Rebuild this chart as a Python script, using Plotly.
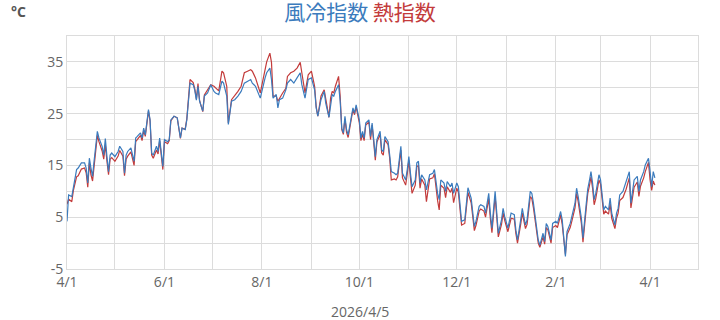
import pandas as pd
import plotly.graph_objects as go

start_date = "2025-04-01"
date_label = "2026/4/5"
title_wc = "風冷指数"
title_hi = "熱指数"
unit = "°C"
y_tick_values = [-5, 5, 15, 25, 35]
y_tick_labels = ["-5", "5", "15", "25", "35"]

day_offsets = [
    0, 1, 3, 4, 6, 7, 9, 11, 12, 13,
    14, 15, 16, 17, 19, 20, 22, 23, 24, 25,
    26, 27, 28, 30, 32, 33, 35, 36, 37, 38,
    40, 42, 43, 44, 46, 47, 48, 49, 51, 52,
    53, 54, 56, 57, 58, 60, 61, 63, 64, 65,
    67, 69, 71, 72, 74, 75,
    77, 79, 80, 81, 82, 83, 85, 86, 88, 90,
    92, 93, 95, 97, 98, 100, 101, 103, 105, 107,
    109, 111, 113, 115, 116, 118, 121, 123, 124, 125,
    127, 128, 129, 131, 132, 133, 135, 137, 138, 140,
    142, 144, 146, 147, 149, 151, 153, 155, 156, 157,
    159, 161, 162, 164, 165, 166, 167, 168, 170, 171,
    172, 173,
    174, 175, 176, 178, 179, 180, 181, 183, 184, 185,
    186, 187, 189, 190, 191, 192, 193, 194, 196, 197,
    198, 199, 201, 202, 203, 205, 206, 207, 209, 210,
    212, 213, 214, 215, 216, 218, 219, 220, 221, 222,
    224, 225, 226, 227, 229, 230, 232, 233, 234, 236,
    237, 238, 240, 241, 242, 244, 245, 246, 247, 249,
    250, 251, 253, 254, 255, 256, 258, 259, 261, 262,
    263, 264, 265, 266, 268, 269, 270, 272, 273, 274,
    276, 278, 280, 281, 282, 284, 285, 287, 288, 290,
    291, 292, 294, 295, 296, 298, 299, 300, 301, 303,
    304, 306, 307, 309, 310, 312, 313, 315, 316, 318,
    319, 320, 322, 323, 325, 326, 327, 328, 329, 330,
    331, 333, 334, 335, 336, 337, 339, 340, 341, 343,
    344, 345, 346, 348, 349, 350, 352, 353, 354, 355,
    357, 358, 359, 361, 362, 363, 364, 365, 366, 367,
    368,
]

wind_chill = [
    4.2, 9.3, 9.0, 10.6, 14.2, 14.5, 15.5, 15.5, 14.5, 11.6,
    16.4, 14.5, 12.9, 16.0, 21.6, 20.3, 18.7, 17.0, 20.2, 16.7,
    13.8, 17.0, 17.4, 16.7, 17.7, 18.7, 17.7, 13.5, 17.0, 17.7,
    18.4, 15.8, 20.3, 20.6, 21.3, 20.3, 22.2, 20.9, 25.8, 23.8,
    17.4, 17.0, 18.7, 17.7, 20.3, 14.8, 20.0, 19.6, 20.0, 23.8,
    24.5, 24.2, 20.3, 22.2, 21.9, 23.8,
    30.9, 30.6, 29.5, 27.6, 30.3, 27.4, 25.5, 28.4, 29.0, 30.6,
    29.3, 29.0, 28.7, 31.3, 30.9, 28.4, 22.9, 27.4, 27.7, 28.4,
    29.3, 30.9, 31.3, 31.6, 30.9, 30.3, 28.0, 30.9, 31.9, 32.9,
    33.8, 31.6, 28.0, 28.7, 26.1, 27.7, 28.0, 29.6, 30.9, 31.6,
    30.9, 31.9, 32.9, 30.6, 28.0, 31.6, 31.9, 29.6, 26.1, 24.5,
    27.7, 29.3, 27.0, 24.3, 26.7, 28.7, 28.4, 29.3, 30.6, 27.4,
    22.2, 21.3,
    24.5, 21.9, 20.9, 24.8, 26.1, 25.1, 26.7, 23.8, 20.3, 21.6,
    20.3, 23.2, 23.8, 20.6, 23.2, 20.0, 16.7, 20.0, 21.6, 18.0,
    17.7, 20.6, 19.6, 17.0, 13.8, 13.5, 13.2, 13.5, 18.7, 13.5,
    12.2, 14.2, 16.7, 13.5, 10.9, 12.2, 15.5, 15.8, 11.6, 13.2,
    12.2, 10.3, 11.9, 13.2, 13.5, 14.2, 9.6, 8.4, 12.2, 11.6,
    10.0, 11.9, 10.9, 11.6, 9.6, 11.6, 10.9, 7.0, 4.2, 4.5,
    8.5, 10.7, 8.7, 5.8, 3.2, 4.2, 7.1, 7.4, 7.1, 5.8,
    7.7, 9.6, 5.8, 2.9, 10.0, 5.5, 1.9, 4.5, 6.7, 5.1,
    2.9, 5.8, 5.5, 2.5, 0.6, 4.5, 6.7, 3.5, 4.5, 10.0,
    9.6, 7.7, 2.5, 0.6, -0.4, 1.9, 0.3, 3.8, 3.2, 0.6,
    3.8, 4.2, 3.8, 6.1, 4.5, -2.6, 2.2, 3.8, 5.1, 7.7,
    10.6, 9.0, 4.8, 1.0, 7.5, 10.5, 12.0, 13.8, 11.6, 8.4,
    9.6, 13.2, 12.2, 9.0, 6.4, 7.1, 6.4, 8.7, 5.8, 3.5,
    5.8, 6.7, 9.3, 10.0, 10.9, 11.6, 13.8, 7.7, 10.0, 12.2,
    12.9, 10.0, 12.2, 13.8, 15.1, 15.8, 16.4, 13.8, 10.9, 13.8,
    12.6,
]

heat_index = [
    7.5, 8.5, 8.0, 10.2, 12.8, 13.0, 14.3, 14.5, 13.6, 10.8,
    15.5, 13.2, 12.0, 15.2, 20.8, 19.6, 17.8, 16.2, 19.0, 15.8,
    13.2, 16.2, 16.5, 15.8, 16.8, 17.9, 16.8, 13.0, 16.2, 16.8,
    17.6, 15.0, 19.6, 20.0, 20.8, 19.8, 21.8, 20.6, 25.5, 23.6,
    17.0, 16.4, 18.0, 17.2, 19.8, 14.2, 19.6, 19.2, 19.8, 23.6,
    24.5, 24.2, 20.2, 22.2, 22.0, 24.0,
    31.6, 31.0, 29.8, 27.8, 30.8, 27.5, 25.4, 28.6, 29.5, 30.6,
    30.3, 30.0, 29.4, 33.2, 32.9, 30.3, 23.2, 27.7, 28.4, 29.3,
    30.3, 32.9, 33.2, 33.5, 33.2, 31.9, 29.0, 32.2, 33.8, 35.0,
    36.7, 34.9, 28.4, 28.4, 27.4, 28.0, 29.0, 29.9, 32.2, 32.9,
    33.2, 33.8, 34.9, 32.9, 29.0, 32.5, 33.2, 30.3, 26.3, 24.5,
    28.4, 29.6, 28.0, 24.3, 28.0, 29.3, 29.0, 30.3, 32.2, 28.4,
    21.9, 21.0,
    24.0, 21.4, 20.4, 24.4, 25.8, 24.8, 26.3, 23.2, 19.8, 21.0,
    19.8, 22.8, 23.4, 20.0, 22.8, 19.5, 16.0, 19.5, 21.0, 17.4,
    17.0, 20.0, 19.0, 16.4, 12.2, 12.4, 12.2, 12.8, 18.0, 12.6,
    11.2, 13.4, 16.0, 12.6, 9.6, 11.2, 14.8, 15.0, 10.6, 12.4,
    11.2, 8.0, 10.8, 12.4, 12.6, 13.4, 8.2, 6.4, 11.2, 10.6,
    8.8, 10.9, 9.8, 10.6, 7.8, 10.6, 9.8, 6.0, 3.5, 3.8,
    7.6, 9.8, 7.8, 4.8, 2.4, 3.4, 6.2, 6.6, 6.2, 5.0,
    6.8, 8.6, 4.8, 2.0, 9.0, 4.6, 1.2, 3.6, 5.8, 4.4,
    2.2, 4.8, 4.6, 1.8, 0.0, 3.6, 5.8, 2.8, 3.6, 9.0,
    8.6, 6.8, 1.8, 0.0, -0.8, 1.2, -0.2, 3.0, 2.6, 0.0,
    3.0, 3.4, 3.0, 5.4, 3.6, -2.2, 1.6, 3.0, 4.2, 6.8,
    9.6, 8.0, 3.8, 0.2, 6.6, 9.6, 11.0, 12.8, 10.6, 7.4,
    8.6, 12.2, 11.4, 8.2, 5.6, 6.2, 5.6, 7.6, 4.8, 2.8,
    4.8, 5.8, 8.2, 8.8, 9.6, 10.4, 12.6, 6.8, 8.8, 10.8,
    11.8, 9.0, 11.0, 12.6, 13.8, 14.6, 15.6, 12.2, 10.2, 12.0,
    11.2,
]

dates = pd.Timestamp(start_date) + pd.to_timedelta(day_offsets, unit="D")

BLUE = "#3b7bbd"
RED = "#c33b3b"
GRID = "#dcdcdc"
TICK = "#666666"
FONT = "Open Sans, Noto Sans, sans-serif"

fig = go.Figure()
fig.add_trace(go.Scatter(x=dates, y=heat_index, mode="lines",
                         line=dict(color=RED, width=1.2), name=title_hi))
fig.add_trace(go.Scatter(x=dates, y=wind_chill, mode="lines",
                         line=dict(color=BLUE, width=1.2), name=title_wc))

fig.update_layout(
    width=720, height=320,
    margin=dict(l=67, r=22, t=36, b=51),
    paper_bgcolor="white", plot_bgcolor="white",
    showlegend=False,
    font=dict(family=FONT, size=14, color=TICK),
    title=dict(
        text=f'<span style="color:{BLUE}">{title_wc}</span> <span style="color:{RED}">{title_hi}</span>',
        x=0.5, xanchor="center", xref="container",
        y=1 - 13 / 320, yanchor="middle", yref="container",
        font=dict(family="Noto Sans CJK JP, sans-serif", size=21),
    ),
)

fig.update_xaxes(
    type="date",
    range=["2025-04-01", "2026-05-01"],
    tick0="2025-04-01", dtick="M2", tickformat="%-m/%-d",
    showgrid=True, gridcolor=GRID, gridwidth=1,
    minor=dict(dtick="M1", showgrid=True, gridcolor=GRID, gridwidth=1),
    showline=True, linecolor=GRID, linewidth=1, mirror=True,
    ticks="", tickfont=dict(size=14, color=TICK),
    zeroline=False,
)
fig.update_yaxes(
    range=[-5, 40],
    showgrid=True, gridcolor=GRID, gridwidth=1,
    minor=dict(tick0=-5, dtick=5, showgrid=True, gridcolor=GRID, gridwidth=1),
    showline=True, linecolor=GRID, linewidth=1, mirror=True,
    ticks="", tickfont=dict(size=14, color=TICK),
    zeroline=False,
    tickmode="array", tickvals=y_tick_values, ticktext=y_tick_labels,
)

fig.add_annotation(text=f"<b>{unit}</b>", xref="paper", yref="paper",
                   x=-0.092, y=1.105, xanchor="left", yanchor="middle",
                   showarrow=False, font=dict(size=14, color="#555555"))
fig.add_annotation(text=date_label, xref="paper", yref="paper",
                   x=(360 - 67) / 631, y=-(311 - 269) / 233, xanchor="center", yanchor="middle",
                   showarrow=False, font=dict(size=14, color=TICK))

fig.write_html("out.html")
